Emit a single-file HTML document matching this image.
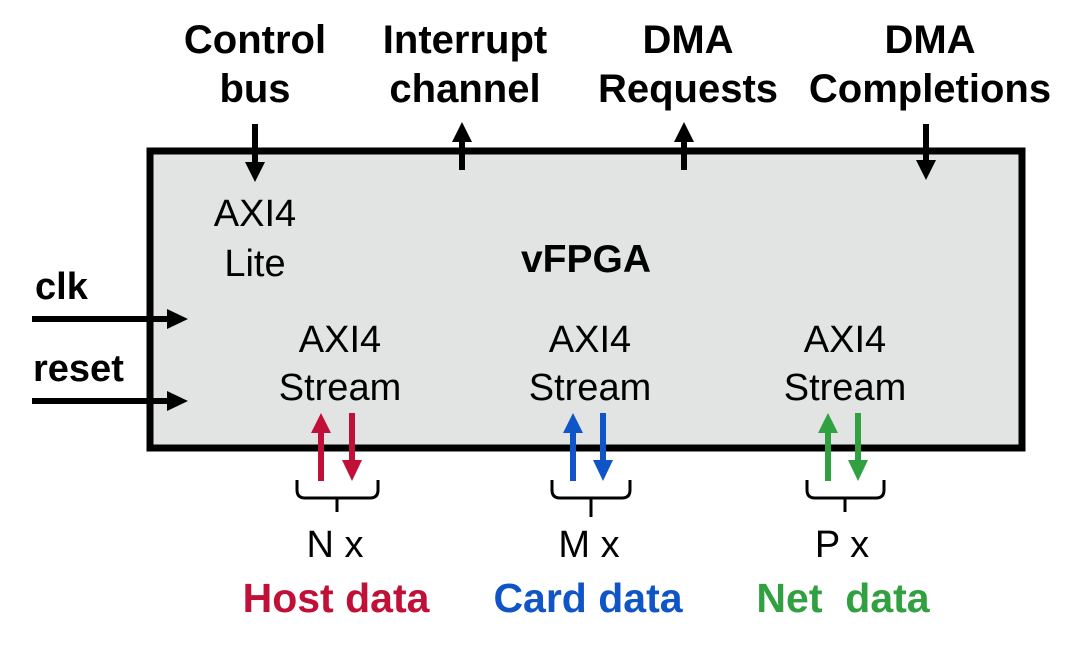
<!DOCTYPE html>
<html><head><meta charset="utf-8"><style>
html,body{margin:0;padding:0;background:#fff;}
svg{display:block;}
text{font-family:"Liberation Sans",Arial,sans-serif;}
.b{font-weight:bold;font-size:40px;}
.r{font-size:38px;}
</style></head><body>
<svg width="1080" height="649" viewBox="0 0 1080 649">
<rect x="150" y="151" width="872" height="297" fill="#e2e3e3" stroke="#000" stroke-width="7"/>
<g class="b" text-anchor="middle" fill="#000">
<text x="255" y="53">Control</text><text x="255" y="102">bus</text>
<text x="465" y="53">Interrupt</text><text x="465" y="102">channel</text>
<text x="688" y="53">DMA</text><text x="688" y="102">Requests</text>
<text x="930" y="53">DMA</text><text x="930" y="102">Completions</text>
</g>
<g stroke="#000" stroke-width="6">
<line x1="255" y1="124" x2="255" y2="165"/>
<line x1="462" y1="170" x2="462" y2="138"/>
<line x1="684" y1="170" x2="684" y2="138"/>
<line x1="926" y1="124" x2="926" y2="163"/>
<line x1="32" y1="319" x2="170" y2="319"/>
<line x1="32" y1="401" x2="170" y2="401"/>
</g>
<g fill="#000">
<polygon points="245,162 265,162 255,182"/>
<polygon points="452,142 472,142 462,122"/>
<polygon points="674,142 694,142 684,122"/>
<polygon points="916,160 936,160 926,180"/>
<polygon points="167,309 167,329 188,319"/>
<polygon points="167,391 167,411 188,401"/>
</g>
<text x="35" y="299" class="b" style="font-size:38px">clk</text>
<text x="33" y="381" class="b" style="font-size:38px">reset</text>
<g class="r" text-anchor="middle" fill="#000">
<text x="255" y="226">AXI4</text><text x="255" y="276">Lite</text>
<text x="340" y="352">AXI4</text><text x="340" y="400">Stream</text>
<text x="590" y="352">AXI4</text><text x="590" y="400">Stream</text>
<text x="845" y="352">AXI4</text><text x="845" y="400">Stream</text>
<text x="335" y="557">N x</text>
<text x="589" y="557">M x</text>
<text x="842" y="557">P x</text>
</g>
<text x="586" y="272" text-anchor="middle" font-weight="bold" font-size="39">vFPGA</text>
<g stroke-width="6">
<line x1="321" y1="481" x2="321" y2="430" stroke="#c01038"/>
<line x1="352" y1="413" x2="352" y2="463" stroke="#c01038"/>
<line x1="573" y1="481" x2="573" y2="430" stroke="#1055c8"/>
<line x1="603" y1="413" x2="603" y2="463" stroke="#1055c8"/>
<line x1="828" y1="481" x2="828" y2="430" stroke="#30a040"/>
<line x1="858" y1="413" x2="858" y2="463" stroke="#30a040"/>
</g>
<polygon points="311,433 331,433 321,413" fill="#c01038"/>
<polygon points="342,460 362,460 352,481" fill="#c01038"/>
<polygon points="563,433 583,433 573,413" fill="#1055c8"/>
<polygon points="593,460 613,460 603,481" fill="#1055c8"/>
<polygon points="818,433 838,433 828,413" fill="#30a040"/>
<polygon points="848,460 868,460 858,481" fill="#30a040"/>
<g fill="none" stroke="#000" stroke-width="3">
<path d="M297,480 V490 Q297,498 305,498 H370 Q378,498 378,490 V480 M337,498 V512"/>
<path d="M552,480 V490 Q552,498 560,498 H622 Q630,498 630,490 V480 M591,498 V517"/>
<path d="M807,480 V490 Q807,498 815,498 H876 Q884,498 884,490 V480 M845,498 V512"/>
</g>
<g class="b" text-anchor="middle" style="font-size:41px">
<text x="336" y="612" fill="#c01038">Host data</text>
<text x="588" y="612" fill="#1055c8">Card data</text>
<text x="843" y="612" fill="#30a040">Net&#160; data</text>
</g>
</svg>
</body></html>
